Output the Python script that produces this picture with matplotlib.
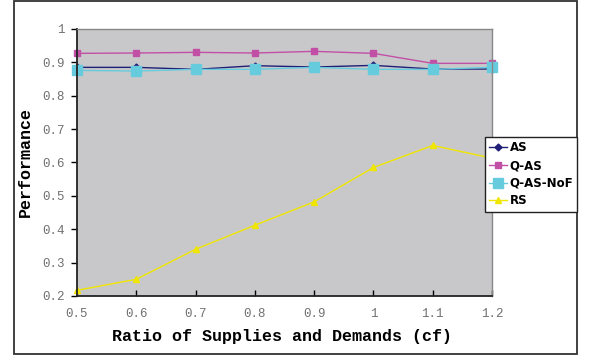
import matplotlib
matplotlib.use("Agg")
import matplotlib.pyplot as plt
from matplotlib.patches import Rectangle

# data
cf = [0.5, 0.6, 0.7, 0.8, 0.9, 1.0, 1.1, 1.2]
as_perf = [0.885, 0.885, 0.879, 0.890, 0.886, 0.891, 0.880, 0.880]
qas_perf = [0.927, 0.928, 0.930, 0.928, 0.933, 0.927, 0.897, 0.897]
qas_nof_perf = [0.876, 0.874, 0.879, 0.879, 0.885, 0.879, 0.879, 0.885]
rs_perf = [0.217, 0.250, 0.340, 0.412, 0.482, 0.585, 0.651, 0.613]

x_ticks = [0.5, 0.6, 0.7, 0.8, 0.9, 1.0, 1.1, 1.2]
x_tick_labels = ["0.5", "0.6", "0.7", "0.8", "0.9", "1", "1.1", "1.2"]
y_ticks = [0.2, 0.3, 0.4, 0.5, 0.6, 0.7, 0.8, 0.9, 1.0]
y_tick_labels = ["0.2", "0.3", "0.4", "0.5", "0.6", "0.7", "0.8", "0.9", "1"]

fig = plt.figure(figsize=(5.89, 3.6), dpi=100)
fig.patch.set_facecolor("white")

# outer chart border
fig.patches.append(Rectangle((0.024, 0.017), 0.956, 0.98, transform=fig.transFigure,
                             fill=False, edgecolor="#333333", linewidth=1.3))

ax = fig.add_axes([0.1307, 0.1778, 0.7046, 0.7417])
ax.set_facecolor("#C8C8CA")

ax.plot(cf, as_perf, color="#1F1F78", marker="D", markersize=3.5, linewidth=1.0,
        label="AS", clip_on=False)
ax.plot(cf, qas_perf, color="#C24FA6", marker="s", markersize=4.5, linewidth=1.0,
        label="Q-AS", clip_on=False)
ax.plot(cf, qas_nof_perf, color="#66CCDD", marker="s", markersize=7, linewidth=1.0,
        label="Q-AS-NoF", clip_on=False)
ax.plot(cf, rs_perf, color="#F0E600", marker="^", markersize=5, linewidth=1.0,
        label="RS", clip_on=False)

ax.set_xlim(0.5, 1.2)
ax.set_ylim(0.2, 1.0)
ax.set_xticks(x_ticks)
ax.set_xticklabels(x_tick_labels, family="Liberation Mono", fontsize=9, color="#707070")
ax.set_yticks(y_ticks)
ax.set_yticklabels(y_tick_labels, family="Liberation Mono", fontsize=9, color="#707070")
ax.tick_params(axis="x", direction="in", length=4, width=1, pad=9)
ax.tick_params(axis="y", direction="out", length=4, width=1, pad=5)

for side in ["left", "bottom"]:
    ax.spines[side].set_color("#222222")
    ax.spines[side].set_linewidth(1.3)
for side in ["top", "right"]:
    ax.spines[side].set_color("#888888")
    ax.spines[side].set_linewidth(1.0)

ax.set_xlabel("Ratio of Supplies and Demands (cf)", family="Liberation Mono",
              fontweight="bold", fontsize=12)
ax.set_ylabel("Performance", family="Liberation Mono", fontweight="bold", fontsize=12)
ax.xaxis.set_label_coords(0.494, -0.125)
ax.yaxis.set_label_coords(-0.106, 0.5)

leg = fig.legend(loc="upper right", bbox_to_anchor=(0.98, 0.619), fancybox=False,
                 edgecolor="#222222", framealpha=1, borderpad=0.35, handlelength=1.5,
                 handletextpad=0.25, labelspacing=0.4, borderaxespad=0,
                 prop={"family": ["Liberation Sans Narrow", "DejaVu Sans Condensed"],
                       "weight": "bold", "size": 8.5})
leg.get_frame().set_linewidth(1.0)

fig.savefig("out.png", dpi=100)
